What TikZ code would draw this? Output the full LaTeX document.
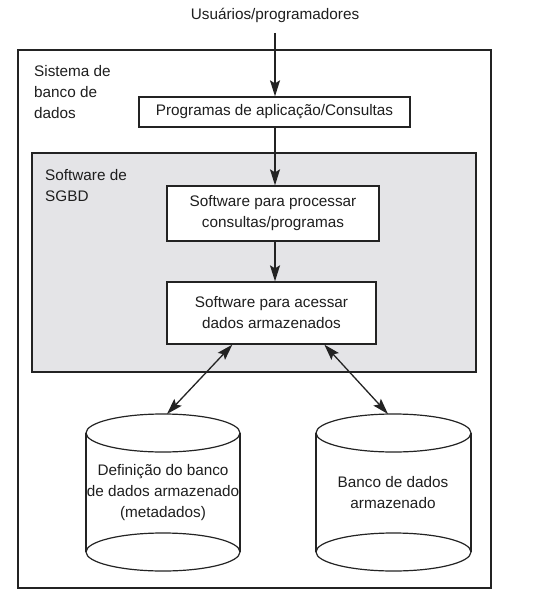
\documentclass[tikz,border=0pt]{standalone}
\usepackage{fontspec}
\setmainfont{Liberation Sans}
\usetikzlibrary{arrows.meta,calc}
\definecolor{txt}{RGB}{30,30,30}
\definecolor{sgbd}{RGB}{228,228,231}
\definecolor{ln}{RGB}{35,35,35}
\tikzset{
  lbl/.style={font=\fontsize{15.3}{21}\selectfont, text=txt, inner sep=0pt},
  procbox/.style={draw=ln, line width=1.3pt, fill=white, font=\fontsize{15.3}{21}\selectfont, text=txt, align=center, inner sep=0pt},
  arr/.style={line width=1.3pt, draw=ln, -{Stealth[length=16pt,width=10pt,inset=3pt]}},
  darr/.style={line width=1.3pt, draw=ln, {Stealth[length=16pt,width=10pt,inset=3pt]}-{Stealth[length=16pt,width=10pt,inset=3pt]}},
  cyl/.style={draw=ln, line width=1.2pt},
}
\begin{document}
\begin{tikzpicture}[x=1pt,y=-1pt]
\useasboundingbox (0,0) rectangle (555,599);
% outer frame
\draw[draw=ln, line width=1.6pt] (18,50) rectangle (491,588);
% SGBD area
\draw[draw=ln, line width=1.3pt, fill=sgbd] (32,153) rectangle (476,372);

\node[lbl] (users) at (275,15) {Usuários/programadores};
\node[lbl, align=left, anchor=west] (sist) at (34,92) {Sistema de\\banco de\\dados};
\node[lbl, align=left, anchor=west] (sgbdl) at (45,186) {Software de\\SGBD};

\node[procbox, minimum width=271pt, minimum height=30pt] (b1) at (274.5,112) {Programas de aplicação/Consultas};
\node[procbox, minimum width=212pt, minimum height=55pt] (b2) at (273,213.5) {Software para processar\\consultas/programas};
\node[procbox, minimum width=209pt, minimum height=62pt] (b3) at (271.5,313) {Software para acessar\\dados armazenados};

% cylinders
\draw[cyl] (86,433) -- (86,552) (240,433) -- (240,552);
\draw[cyl] (163,433) ellipse [x radius=77pt, y radius=19pt];
\draw[cyl] (163,552) ellipse [x radius=77pt, y radius=19pt];
\draw[cyl] (316,433) -- (316,552) (471,433) -- (471,552);
\draw[cyl] (393.5,433) ellipse [x radius=77.5pt, y radius=19pt];
\draw[cyl] (393.5,552) ellipse [x radius=77.5pt, y radius=19pt];
\node[lbl, align=center] (c1) at (163,493) {Definição do banco\\de dados armazenado\\(metadados)};
\node[lbl, align=center] (c2) at (393,492.5) {Banco de dados\\armazenado};
\coordinate (c1top) at (167,414);
\coordinate (c2top) at (388,414);

% connectors
\coordinate (usr) at (275,33);
\draw[arr] (usr) -- (usr |- b1.north);
\draw[arr] (b1.south -| usr) -- (usr |- b2.north);
\draw[arr] (b2.south -| usr) -- (usr |- b3.north);
\draw[darr] ($(b3.south west)+(66,0)$) -- (c1top);
\draw[darr] ($(b3.south west)+(158,0)$) -- (c2top);
\end{tikzpicture}
\end{document}
